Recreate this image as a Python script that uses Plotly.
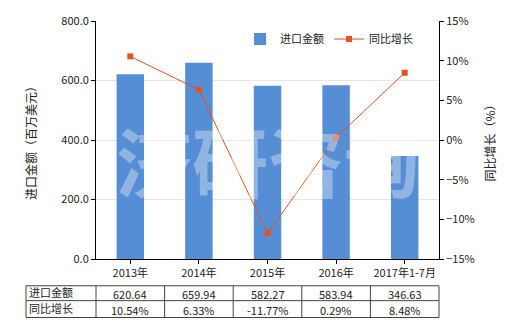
import plotly.graph_objects as go

categories = ["2013年", "2014年", "2015年", "2016年", "2017年1-7月"]
import_values = [620.64, 659.94, 582.27, 583.94, 346.63]
growth_pct = [10.54, 6.33, -11.77, 0.29, 8.48]
value_labels = ["620.64", "659.94", "582.27", "583.94", "346.63"]
growth_labels = ["10.54%", "6.33%", "-11.77%", "0.29%", "8.48%"]
row_names = ["进口金额", "同比增长"]

FONT = "Noto Sans CJK SC"
BAR = "#558ED5"
LINE = "#E4521F"

fig = go.Figure()
fig.add_trace(go.Bar(x=categories, y=import_values, name="进口金额",
                     marker=dict(color=BAR, line=dict(width=0)), width=0.4))
fig.add_trace(go.Scatter(x=categories, y=growth_pct, name="同比增长", yaxis="y2",
                         mode="lines+markers",
                         line=dict(color=LINE, width=1),
                         marker=dict(symbol="square", size=6, color=LINE)))

L, R, T, B = 96, 81, 19, 71
W, H = 520, 330
plot_w = W - L - R
plot_h = H - T - B

fig.update_layout(
    width=W, height=H,
    margin=dict(l=L, r=R, t=T, b=B),
    paper_bgcolor="white", plot_bgcolor="white",
    font=dict(family=FONT, size=11, color="#222"),
    showlegend=True,
    legend=dict(orientation="h", x=0.42, y=0.985, xanchor="left", yanchor="top",
                font=dict(size=11), bgcolor="rgba(0,0,0,0)"),
    xaxis=dict(showline=True, linecolor="#000", linewidth=1, ticks="outside",
               ticklen=4, tickcolor="#000", tickfont=dict(size=11),
               showgrid=False),
    yaxis=dict(range=[0, 800], dtick=200, tickformat=".1f", showline=True,
               linecolor="#000", linewidth=1, ticks="outside", ticklen=4,
               tickcolor="#000", showgrid=True, gridcolor="#E6E6E6",
               zeroline=False, tickfont=dict(size=11),
               title=dict(text="进口金额（百万美元）", font=dict(size=12), standoff=22)),
    yaxis2=dict(range=[-15, 15], dtick=5, ticksuffix="%", overlaying="y",
                side="right", showline=True, linecolor="#000", linewidth=1,
                ticks="outside", ticklen=4, tickcolor="#000", showgrid=False,
                zeroline=False, tickfont=dict(size=11),
                title=dict(text="同比增长（%）", font=dict(size=12), standoff=12)),
)

# watermark
fig.add_annotation(text="<b>济研咨询</b>", xref="paper", yref="paper", x=0.5, y=0.42,
                   showarrow=False, font=dict(size=76, color="rgba(255,255,255,0.35)",
                   family=FONT), xanchor="center", yanchor="middle")

# table below the chart (pixel -> plot-area paper coords)
def px_x(x):
    return (x - L) / plot_w

def px_y(y):
    return (H - B - y) / plot_h

x_left = 26
top = 286
mid = 301
bot = 318
col_w = plot_w / len(categories)

shapes = []
shapes.append(dict(type="rect", xref="paper", yref="paper",
                   x0=px_x(x_left), x1=px_x(W - R), y0=px_y(bot), y1=px_y(top),
                   line=dict(color="#444", width=1)))
shapes.append(dict(type="line", xref="paper", yref="paper",
                   x0=px_x(x_left), x1=px_x(W - R), y0=px_y(mid), y1=px_y(mid),
                   line=dict(color="#444", width=1)))
for i in range(len(categories)):
    xv = L + i * col_w
    shapes.append(dict(type="line", xref="paper", yref="paper",
                       x0=px_x(xv), x1=px_x(xv), y0=px_y(bot), y1=px_y(top),
                       line=dict(color="#444", width=1)))
fig.update_layout(shapes=shapes)

for r, name in enumerate(row_names):
    yc = (top + mid) / 2 if r == 0 else (mid + bot) / 2
    fig.add_annotation(text=name, xref="paper", yref="paper", x=px_x(x_left + 1),
                       y=px_y(yc - 1), xanchor="left", yanchor="middle",
                       showarrow=False, font=dict(size=11))
for i, c in enumerate(categories):
    for r, labels in enumerate([value_labels, growth_labels]):
        yc = (top + mid) / 2 if r == 0 else (mid + bot) / 2
        fig.add_annotation(text=labels[i], xref="x", yref="paper", x=c,
                           y=px_y(yc + 1), xanchor="center", yanchor="middle",
                           showarrow=False, font=dict(size=11))

fig.write_html("out.html")
